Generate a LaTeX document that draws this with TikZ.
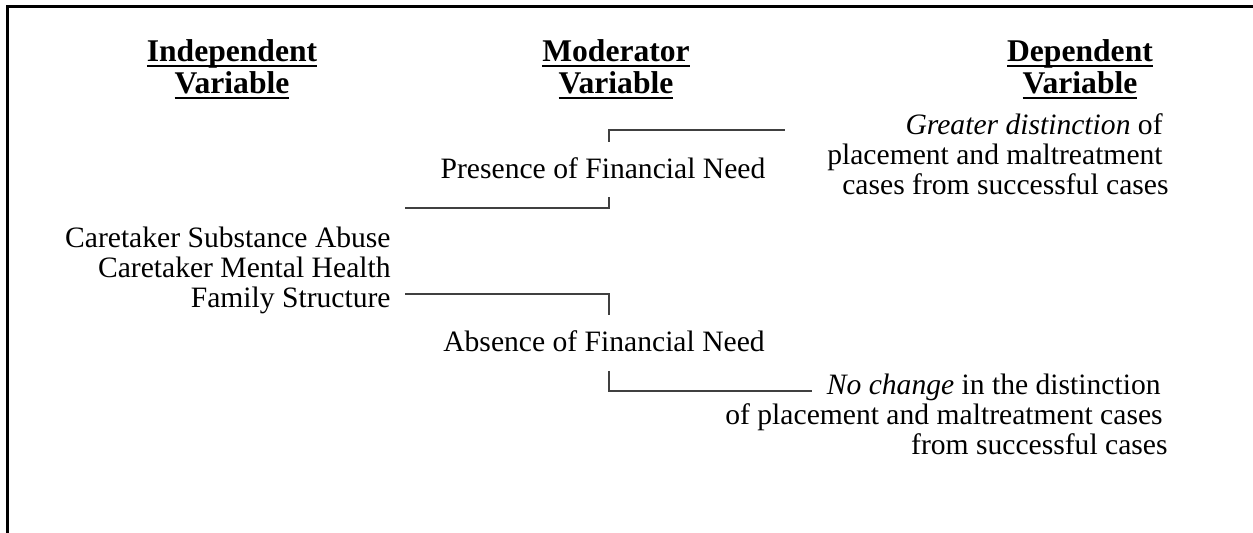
\documentclass[tikz,border=0pt]{standalone}
\usepackage{fontspec}
\setmainfont{Liberation Serif}
\newcommand{\ulbf}[1]{\setbox0\hbox{#1}\rlap{\rule[-2.4pt]{\wd0}{1pt}}\box0}
\begin{document}
\begin{tikzpicture}[x=0.5pt,y=-0.5pt,
	heading/.style={font=\fontsize{15.8}{17}\selectfont\bfseries, anchor=base},
	body/.style={font=\fontsize{14.8}{15}\selectfont, anchor=base, inner sep=0pt},
	link/.style={draw=black!75, line width=0.6pt}]
				\useasboundingbox (0,0) rectangle (1253,533);
				\draw[line width=1.5pt] (7,533) -- (7,7) -- (1253,7);
				\node[heading] (ivh1) at (232,62) {\ulbf{Independent}};
				\node[heading] (ivh2) at (232,94) {\ulbf{Variable}};
				\node[heading] (mvh1) at (616,62) {\ulbf{Moderator}};
				\node[heading] (mvh2) at (616,94) {\ulbf{Variable}};
				\node[heading] (dvh1) at (1080,62) {\ulbf{Dependent}};
				\node[heading] (dvh2) at (1080,94) {\ulbf{Variable}};
				\node[body, anchor=base east, align=right] (iv) at (391,308) {Caretaker Substance Abuse\\Caretaker Mental Health\\Family Structure};
				\node[body] (pres) at (603,179) {Presence of Financial Need};
				\node[body] (abs) at (604,352) {Absence of Financial Need};
				\node[body, anchor=base east, align=right] (dva) at (1163,195) {\textit{Greater distinction} of\\placement and maltreatment\\cases from successful cases\hspace*{-3pt}};
				\node[body, anchor=base east, align=right] (dvb) at (1163,455) {\textit{No change} in the distinction\hspace*{1pt}\\of placement and maltreatment cases\\from successful cases\hspace*{-2.5pt}};
				\coordinate (ivtop) at (405,208);
				\coordinate (presbot) at (609,197);
				\coordinate (ivbot) at (405,294);
				\coordinate (abstop) at (609,315);
				\coordinate (prestop) at (609,142);
				\coordinate (dvatip) at (785,130);
				\coordinate (absbot) at (609,371);
				\coordinate (dvbtip) at (812,391);
				\draw[link] (ivtop) -| (presbot);
				\draw[link] (ivbot) -| (abstop);
				\draw[link] (prestop) |- (dvatip);
				\draw[link] (absbot) |- (dvbtip);
\end{tikzpicture}
\end{document}
